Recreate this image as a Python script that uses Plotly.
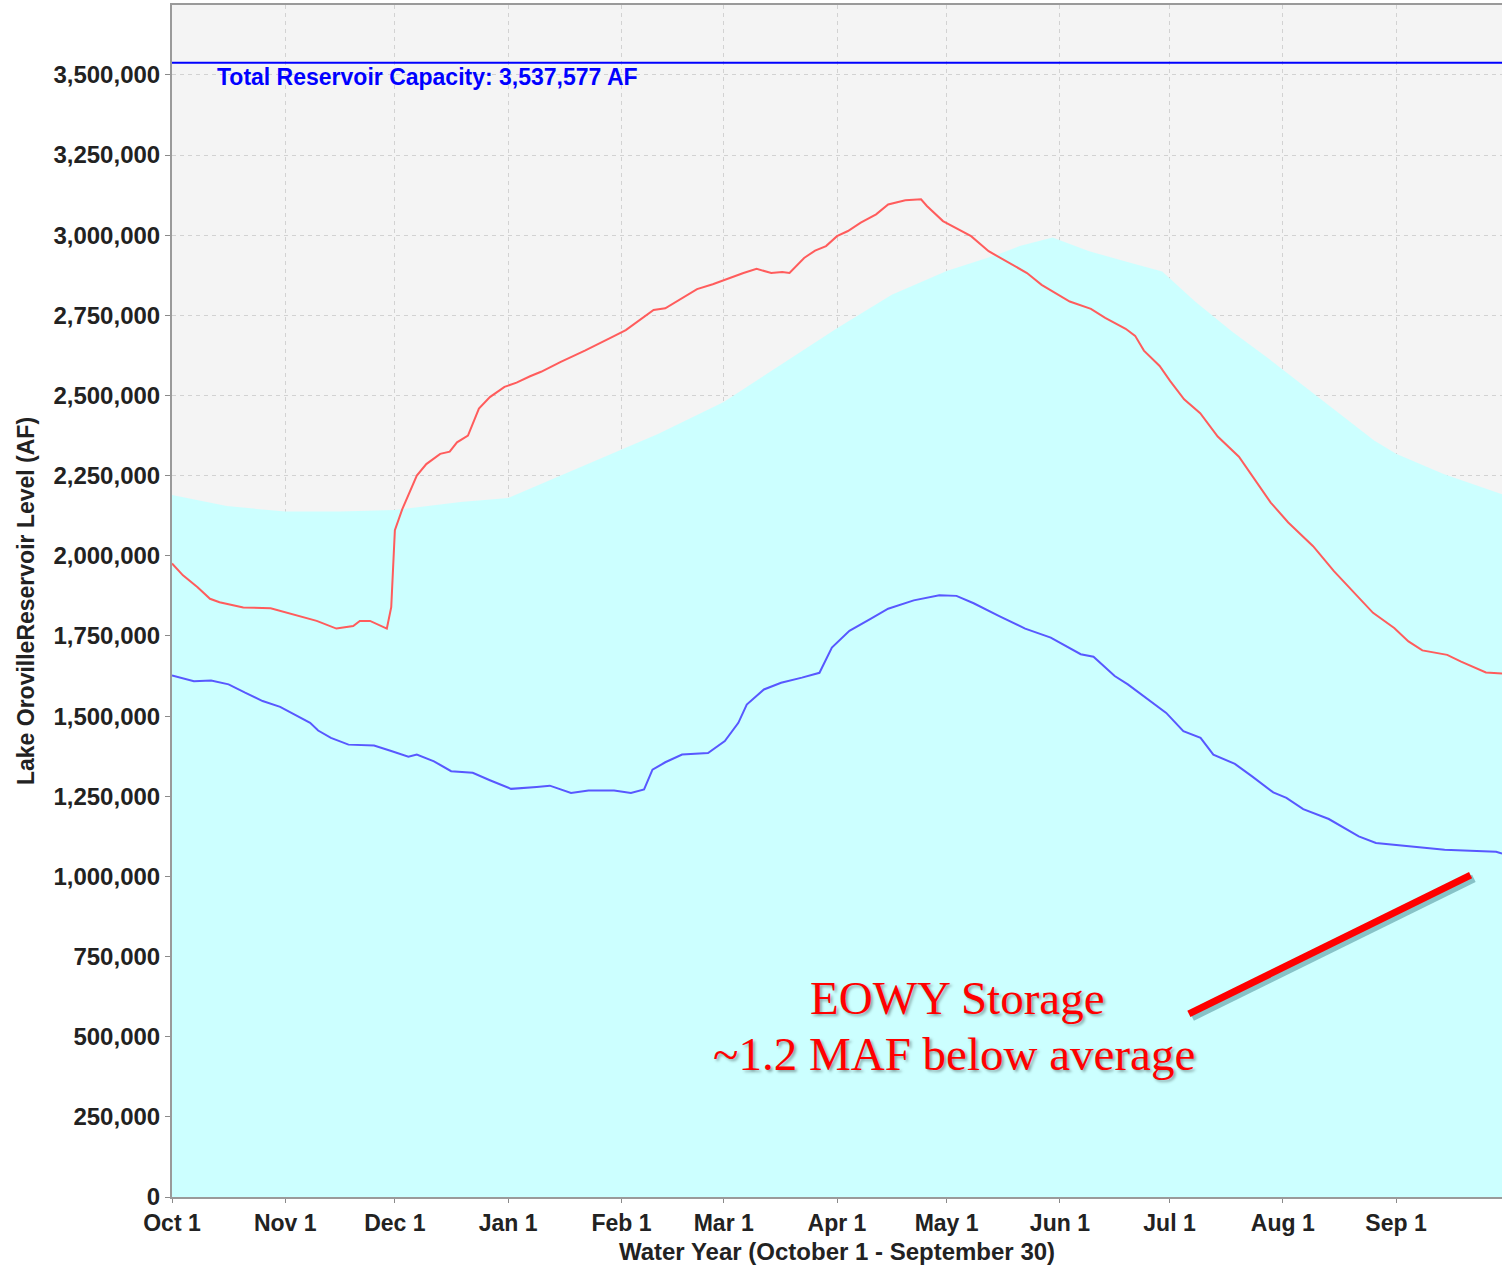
import pandas as pd
import plotly.graph_objects as go

# ---------------- data (days since Oct 1, storage in million AF) ----------------
water_year_start = "2014-10-01"
water_year_end = "2015-09-30"
capacity_af = 3537577

avg_days = [0, 15, 31, 46, 61, 79, 92, 100, 111, 123, 133, 151, 165, 182, 197,
            212, 226, 232, 241, 251, 261, 271, 280, 290, 300, 309, 319, 329,
            335, 348, 364]
avg_maf = [2.190, 2.155, 2.138, 2.138, 2.143, 2.168, 2.180, 2.219, 2.271, 2.331,
           2.380, 2.480, 2.584, 2.710, 2.814, 2.888, 2.940, 2.966, 2.993, 2.950,
           2.918, 2.887, 2.793, 2.700, 2.616, 2.537, 2.448, 2.360, 2.318, 2.255,
           2.192]

red_days = [0, 3, 7, 10.4, 13, 19.5, 27, 33, 39.6, 45, 49.6, 51.4, 54.2, 58.8, 60,
            61, 63, 67, 69.6, 73.4, 76, 78, 81, 84, 87, 91, 94.3, 98, 101, 106.4,
            113, 120, 124.2, 131.8, 135, 143.7, 148, 156.4, 160, 164, 167, 169,
            173, 176, 179, 182, 185, 188.5, 192.7, 196, 200.7, 205, 206.6, 211,
            214, 218.7, 223.5, 227.4, 234, 238, 245.7, 251.5, 255.4, 261, 263.6,
            266, 270.3, 273.2, 277, 281.4, 286.2, 292, 297, 300.7, 305.5, 312.3,
            318, 324, 328.7, 334.5, 338.4, 342.2, 349, 352.8, 357.7, 359.6, 364]
red_maf = [1.976, 1.939, 1.902, 1.866, 1.855, 1.839, 1.836, 1.818, 1.797, 1.773,
           1.781, 1.797, 1.797, 1.773, 1.840, 2.080, 2.145, 2.250, 2.286, 2.318,
           2.325, 2.354, 2.375, 2.459, 2.495, 2.527, 2.540, 2.560, 2.574, 2.605,
           2.640, 2.680, 2.704, 2.767, 2.772, 2.832, 2.847, 2.882, 2.895, 2.882,
           2.885, 2.882, 2.929, 2.952, 2.966, 2.997, 3.013, 3.039, 3.065, 3.096,
           3.109, 3.112, 3.091, 3.044, 3.025, 2.997, 2.950, 2.924, 2.882, 2.845,
           2.793, 2.770, 2.742, 2.708, 2.686, 2.640, 2.592, 2.545, 2.488, 2.445,
           2.372, 2.309, 2.229, 2.166, 2.104, 2.030, 1.952, 1.879, 1.822, 1.775,
           1.733, 1.705, 1.691, 1.670, 1.646, 1.636, 1.633]

blue_days = [0, 6, 10.7, 15.5, 20, 24.8, 29.6, 34.2, 37.8, 40, 43.5, 48.3, 55.3,
             60, 64.7, 67, 71.7, 76.4, 82.3, 87, 92.8, 99.8, 103.4, 109.2, 114,
             121, 125.6, 129.2, 131.5, 135, 139.6, 146.7, 151.3, 155, 157.3, 162,
             166.7, 172.4, 177.2, 180.6, 185.4, 191.3, 196, 203, 210, 214.7, 219.4,
             226.4, 233.5, 240.5, 248.7, 252.2, 258, 261.6, 267.4, 272.1, 276.8,
             281.5, 285, 290.9, 295.6, 301.4, 305, 309.6, 316.6, 324.8, 329.5,
             334.2, 341.3, 348.3, 355.3, 362.4, 364]
blue_maf = [1.627, 1.609, 1.611, 1.599, 1.573, 1.547, 1.529, 1.500, 1.479, 1.455,
            1.432, 1.411, 1.408, 1.391, 1.373, 1.380, 1.359, 1.328, 1.323, 1.300,
            1.273, 1.279, 1.283, 1.260, 1.268, 1.268, 1.260, 1.271, 1.333, 1.356,
            1.380, 1.385, 1.422, 1.479, 1.536, 1.583, 1.604, 1.620, 1.635, 1.714,
            1.766, 1.804, 1.835, 1.861, 1.877, 1.875, 1.852, 1.812, 1.773, 1.745,
            1.693, 1.685, 1.625, 1.599, 1.549, 1.510, 1.453, 1.432, 1.380, 1.351,
            1.312, 1.262, 1.245, 1.210, 1.179, 1.125, 1.104, 1.099, 1.092, 1.083,
            1.080, 1.077, 1.071]

month_ticks = ["2014-10-01", "2014-11-01", "2014-12-01", "2015-01-01", "2015-02-01",
               "2015-03-01", "2015-04-01", "2015-05-01", "2015-06-01", "2015-07-01",
               "2015-08-01", "2015-09-01"]
month_labels = ["Oct 1", "Nov 1", "Dec 1", "Jan 1", "Feb 1", "Mar 1", "Apr 1",
                "May 1", "Jun 1", "Jul 1", "Aug 1", "Sep 1"]
y_ticks = list(range(0, 3500001, 250000))

# pointer line (start/end in days and MAF)
arrow_days = [278.3, 355.4]
arrow_maf = [0.571, 1.004]

base = pd.Timestamp(water_year_start)


def to_dates(days):
    return [base + pd.Timedelta(days=float(d)) for d in days]


def to_af(maf):
    return [v * 1e6 for v in maf]


fig = go.Figure()
fig.add_trace(go.Scatter(x=to_dates(avg_days), y=to_af(avg_maf), mode="lines",
                         fill="tozeroy", fillcolor="#ccffff",
                         line=dict(width=0, color="#ccffff"), hoverinfo="skip",
                         name="Historical Average"))
fig.add_trace(go.Scatter(x=to_dates(red_days), y=to_af(red_maf), mode="lines",
                         line=dict(color="#ff5c5c", width=2), name="Previous Year"))
fig.add_trace(go.Scatter(x=to_dates(blue_days), y=to_af(blue_maf), mode="lines",
                         line=dict(color="#5858ff", width=2), name="Current Year"))

# capacity line
fig.add_shape(type="line", xref="paper", x0=0, x1=1, yref="y",
              y0=capacity_af, y1=capacity_af, line=dict(color="#0000ff", width=2))
fig.add_annotation(xref="paper", x=0.032, yref="y", y=capacity_af, yshift=-14,
                   xanchor="left", yanchor="middle", showarrow=False,
                   text="Total Reservoir Capacity: 3,537,577 AF",
                   font=dict(family="Liberation Sans, Arial", size=23,
                             color="#0000ff", weight="bold"))

# red pointer line with a soft drop shadow (shadow offset ~3px right/down)
shadow_dx_days = 0.9
shadow_dy_af = 10000
ad = to_dates(arrow_days)
aa = to_af(arrow_maf)
ad_s = to_dates([d + shadow_dx_days for d in arrow_days])
aa_s = [v - shadow_dy_af for v in aa]
fig.add_trace(go.Scatter(x=ad_s, y=aa_s, mode="lines", hoverinfo="skip",
                         line=dict(color="rgba(50,120,130,0.45)", width=8)))
fig.add_trace(go.Scatter(x=ad, y=aa, mode="lines", hoverinfo="skip",
                         line=dict(color="#ff0000", width=7)))

shadow = "2px 2px 3px rgba(0,0,0,0.35)"
fig.add_annotation(x=base + pd.Timedelta(days=215), y=620000, xref="x", yref="y",
                   showarrow=False, text="EOWY Storage", xanchor="center",
                   yanchor="middle",
                   font=dict(family="Liberation Serif, Times New Roman", size=47,
                             color="#ff0000", shadow=shadow))
fig.add_annotation(x=base + pd.Timedelta(days=214), y=447000, xref="x", yref="y",
                   showarrow=False, text="~1.2 MAF below average", xanchor="center",
                   yanchor="middle",
                   font=dict(family="Liberation Serif, Times New Roman", size=47,
                             color="#ff0000", shadow=shadow))

xtick_font = dict(family="Liberation Sans, Arial", size=23, color="#222222",
                  weight="bold")
ytick_font = dict(family="Liberation Sans, Arial", size=24, color="#222222",
                  weight="bold")

fig.update_layout(
    width=1503, height=1273,
    margin=dict(l=172, r=1, t=5, b=76),
    plot_bgcolor="#f4f4f4", paper_bgcolor="white",
    showlegend=False,
    xaxis=dict(type="date", range=[water_year_start, water_year_end],
               tickvals=month_ticks, ticktext=month_labels, tickfont=xtick_font,
               showgrid=True, gridcolor="#d2d2d2", griddash="4px,4px", gridwidth=1,
               showline=True, linecolor="#9a9a9a", linewidth=2, mirror=True,
               ticks="outside", ticklen=4, tickcolor="#8a8a8a", zeroline=False,
               title=dict(text="Water Year (October 1 - September 30)",
                          font=dict(family="Liberation Sans, Arial", size=24,
                                    color="#222222", weight="bold"),
                          standoff=9)),
    yaxis=dict(range=[0, 3718000], tickvals=y_ticks, tickformat=",",
               tickfont=ytick_font, showgrid=True, gridcolor="#d2d2d2",
               griddash="4px,4px", gridwidth=1, showline=True,
               linecolor="#9a9a9a", linewidth=2, ticks="outside", ticklen=5,
               tickcolor="#8a8a8a", zeroline=False,
               title=dict(text="Lake OrovilleReservoir Level (AF)",
                          font=dict(family="Liberation Sans, Arial", size=23,
                                    color="#222222", weight="bold"),
                          standoff=12)),
)

fig.write_html("out.html", config={"displayModeBar": False},
               post_script="document.body.style.margin='0px';")
